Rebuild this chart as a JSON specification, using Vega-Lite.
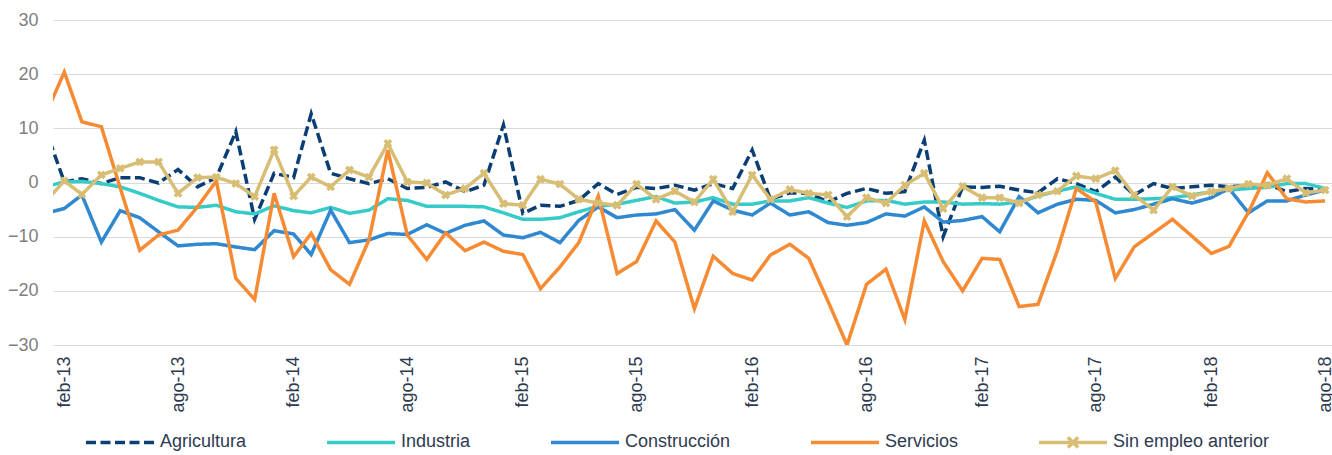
{
  "$schema": "https://vega.github.io/schema/vega-lite/v6.json",
  "width": 1279,
  "height": 325,
  "autosize": {"type": "none"},
  "padding": {"left": 53, "top": 20, "right": 0, "bottom": 110},
  "background": "white",
  "config": {
    "view": {"stroke": null},
    "font": "Liberation Sans",
    "axis": {"labelFont": "Liberation Sans"},
    "legend": {"labelFont": "Liberation Sans"}
  },
  "data": {
    "values": [
      {"mes": "2013-01-01", "Agricultura": 10.2, "Industria": -0.8, "Construcción": -5.7, "Servicios": 12.2, "Sin empleo anterior": -3.7},
      {"mes": "2013-02-01", "Agricultura": 0.1, "Industria": 0.1, "Construcción": -4.8, "Servicios": 20.4, "Sin empleo anterior": 0.3},
      {"mes": "2013-03-01", "Agricultura": 0.7, "Industria": 0.2, "Construcción": -2.3, "Servicios": 11.2, "Sin empleo anterior": -2.2},
      {"mes": "2013-04-01", "Agricultura": -0.2, "Industria": -0.2, "Construcción": -11.0, "Servicios": 10.3, "Sin empleo anterior": 1.4},
      {"mes": "2013-05-01", "Agricultura": 0.9, "Industria": -0.8, "Construcción": -5.2, "Servicios": -1.0, "Sin empleo anterior": 2.6},
      {"mes": "2013-06-01", "Agricultura": 0.9, "Industria": -2.0, "Construcción": -6.5, "Servicios": -12.5, "Sin empleo anterior": 3.8},
      {"mes": "2013-07-01", "Agricultura": -0.1, "Industria": -3.3, "Construcción": -9.1, "Servicios": -9.7, "Sin empleo anterior": 3.8},
      {"mes": "2013-08-01", "Agricultura": 2.4, "Industria": -4.5, "Construcción": -11.7, "Servicios": -8.8, "Sin empleo anterior": -2.0},
      {"mes": "2013-09-01", "Agricultura": -0.8, "Industria": -4.6, "Construcción": -11.4, "Servicios": -4.5, "Sin empleo anterior": 0.9},
      {"mes": "2013-10-01", "Agricultura": 0.9, "Industria": -4.2, "Construcción": -11.3, "Servicios": 0.3, "Sin empleo anterior": 1.0},
      {"mes": "2013-11-01", "Agricultura": 9.4, "Industria": -5.4, "Construcción": -11.9, "Servicios": -17.7, "Sin empleo anterior": -0.2},
      {"mes": "2013-12-01", "Agricultura": -6.8, "Industria": -5.8, "Construcción": -12.4, "Servicios": -21.6, "Sin empleo anterior": -2.6},
      {"mes": "2014-01-01", "Agricultura": 1.7, "Industria": -4.3, "Construcción": -8.9, "Servicios": -2.0, "Sin empleo anterior": 6.0},
      {"mes": "2014-02-01", "Agricultura": 0.9, "Industria": -5.2, "Construcción": -9.5, "Servicios": -13.7, "Sin empleo anterior": -2.5},
      {"mes": "2014-03-01", "Agricultura": 12.7, "Industria": -5.6, "Construcción": -13.3, "Servicios": -9.4, "Sin empleo anterior": 1.0},
      {"mes": "2014-04-01", "Agricultura": 1.7, "Industria": -4.6, "Construcción": -5.1, "Servicios": -16.1, "Sin empleo anterior": -0.8},
      {"mes": "2014-05-01", "Agricultura": 0.7, "Industria": -5.7, "Construcción": -11.1, "Servicios": -18.8, "Sin empleo anterior": 2.3},
      {"mes": "2014-06-01", "Agricultura": -0.2, "Industria": -5.1, "Construcción": -10.6, "Servicios": -10.6, "Sin empleo anterior": 1.0},
      {"mes": "2014-07-01", "Agricultura": 0.7, "Industria": -3.0, "Construcción": -9.4, "Servicios": 6.0, "Sin empleo anterior": 7.2},
      {"mes": "2014-08-01", "Agricultura": -1.1, "Industria": -3.3, "Construcción": -9.6, "Servicios": -9.7, "Sin empleo anterior": 0.1},
      {"mes": "2014-09-01", "Agricultura": -0.9, "Industria": -4.4, "Construcción": -7.8, "Servicios": -14.2, "Sin empleo anterior": -0.1},
      {"mes": "2014-10-01", "Agricultura": 0.1, "Industria": -4.4, "Construcción": -9.4, "Servicios": -9.3, "Sin empleo anterior": -2.3},
      {"mes": "2014-11-01", "Agricultura": -1.7, "Industria": -4.4, "Construcción": -7.9, "Servicios": -12.6, "Sin empleo anterior": -1.1},
      {"mes": "2014-12-01", "Agricultura": -0.5, "Industria": -4.5, "Construcción": -7.1, "Servicios": -11.0, "Sin empleo anterior": 1.7},
      {"mes": "2015-01-01", "Agricultura": 10.6, "Industria": -5.6, "Construcción": -9.7, "Servicios": -12.7, "Sin empleo anterior": -3.9},
      {"mes": "2015-02-01", "Agricultura": -5.7, "Industria": -6.8, "Construcción": -10.2, "Servicios": -13.3, "Sin empleo anterior": -4.2},
      {"mes": "2015-03-01", "Agricultura": -4.2, "Industria": -6.8, "Construcción": -9.2, "Servicios": -19.6, "Sin empleo anterior": 0.6},
      {"mes": "2015-04-01", "Agricultura": -4.4, "Industria": -6.5, "Construcción": -11.1, "Servicios": -15.6, "Sin empleo anterior": -0.3},
      {"mes": "2015-05-01", "Agricultura": -3.3, "Industria": -5.4, "Construcción": -7.0, "Servicios": -11.1, "Sin empleo anterior": -3.1},
      {"mes": "2015-06-01", "Agricultura": -0.2, "Industria": -4.4, "Construcción": -4.5, "Servicios": -2.5, "Sin empleo anterior": -3.8},
      {"mes": "2015-07-01", "Agricultura": -2.2, "Industria": -4.0, "Construcción": -6.5, "Servicios": -16.8, "Sin empleo anterior": -4.2},
      {"mes": "2015-08-01", "Agricultura": -0.9, "Industria": -3.3, "Construcción": -6.0, "Servicios": -14.6, "Sin empleo anterior": -0.3},
      {"mes": "2015-09-01", "Agricultura": -1.1, "Industria": -2.6, "Construcción": -5.8, "Servicios": -7.1, "Sin empleo anterior": -3.1},
      {"mes": "2015-10-01", "Agricultura": -0.5, "Industria": -3.8, "Construcción": -5.0, "Servicios": -11.0, "Sin empleo anterior": -1.6},
      {"mes": "2015-11-01", "Agricultura": -1.4, "Industria": -3.6, "Construcción": -8.8, "Servicios": -23.3, "Sin empleo anterior": -3.6},
      {"mes": "2015-12-01", "Agricultura": -0.2, "Industria": -2.8, "Construcción": -3.4, "Servicios": -13.6, "Sin empleo anterior": 0.6},
      {"mes": "2016-01-01", "Agricultura": -1.1, "Industria": -4.0, "Construcción": -5.1, "Servicios": -16.8, "Sin empleo anterior": -5.4},
      {"mes": "2016-02-01", "Agricultura": 6.0, "Industria": -4.0, "Construcción": -6.0, "Servicios": -18.0, "Sin empleo anterior": 1.4},
      {"mes": "2016-03-01", "Agricultura": -3.1, "Industria": -3.4, "Construcción": -3.8, "Servicios": -13.4, "Sin empleo anterior": -3.1},
      {"mes": "2016-04-01", "Agricultura": -1.9, "Industria": -3.4, "Construcción": -6.0, "Servicios": -11.4, "Sin empleo anterior": -1.3},
      {"mes": "2016-05-01", "Agricultura": -2.0, "Industria": -2.8, "Construcción": -5.4, "Servicios": -14.0, "Sin empleo anterior": -2.0},
      {"mes": "2016-06-01", "Agricultura": -3.6, "Industria": -3.8, "Construcción": -7.4, "Servicios": -22.0, "Sin empleo anterior": -2.3},
      {"mes": "2016-07-01", "Agricultura": -2.0, "Industria": -4.6, "Construcción": -7.9, "Servicios": -30.0, "Sin empleo anterior": -6.3},
      {"mes": "2016-08-01", "Agricultura": -1.1, "Industria": -3.4, "Construcción": -7.4, "Servicios": -18.8, "Sin empleo anterior": -2.8},
      {"mes": "2016-09-01", "Agricultura": -2.0, "Industria": -3.3, "Construcción": -5.8, "Servicios": -16.0, "Sin empleo anterior": -3.8},
      {"mes": "2016-10-01", "Agricultura": -1.7, "Industria": -4.0, "Construcción": -6.2, "Servicios": -25.3, "Sin empleo anterior": -0.5},
      {"mes": "2016-11-01", "Agricultura": 7.8, "Industria": -3.6, "Construcción": -4.5, "Servicios": -7.1, "Sin empleo anterior": 1.7},
      {"mes": "2016-12-01", "Agricultura": -10.0, "Industria": -3.6, "Construcción": -7.3, "Servicios": -14.6, "Sin empleo anterior": -4.8},
      {"mes": "2017-01-01", "Agricultura": -0.8, "Industria": -4.0, "Construcción": -7.0, "Servicios": -20.0, "Sin empleo anterior": -0.7},
      {"mes": "2017-02-01", "Agricultura": -0.9, "Industria": -3.9, "Construcción": -6.3, "Servicios": -14.0, "Sin empleo anterior": -2.8},
      {"mes": "2017-03-01", "Agricultura": -0.7, "Industria": -4.0, "Construcción": -9.1, "Servicios": -14.2, "Sin empleo anterior": -2.8},
      {"mes": "2017-04-01", "Agricultura": -1.4, "Industria": -3.6, "Construcción": -2.6, "Servicios": -22.9, "Sin empleo anterior": -3.8},
      {"mes": "2017-05-01", "Agricultura": -1.9, "Industria": -2.5, "Construcción": -5.6, "Servicios": -22.5, "Sin empleo anterior": -2.3},
      {"mes": "2017-06-01", "Agricultura": 0.7, "Industria": -1.6, "Construcción": -4.0, "Servicios": -12.5, "Sin empleo anterior": -1.6},
      {"mes": "2017-07-01", "Agricultura": -0.2, "Industria": -0.8, "Construcción": -3.1, "Servicios": -1.1, "Sin empleo anterior": 1.2},
      {"mes": "2017-08-01", "Agricultura": -1.7, "Industria": -2.0, "Construcción": -3.3, "Servicios": -3.6, "Sin empleo anterior": 0.7},
      {"mes": "2017-09-01", "Agricultura": 1.0, "Industria": -3.1, "Construcción": -5.6, "Servicios": -17.7, "Sin empleo anterior": 2.2},
      {"mes": "2017-10-01", "Agricultura": -2.3, "Industria": -3.1, "Construcción": -5.0, "Servicios": -11.9, "Sin empleo anterior": -2.3},
      {"mes": "2017-11-01", "Agricultura": -0.2, "Industria": -3.0, "Construcción": -4.0, "Servicios": -9.3, "Sin empleo anterior": -5.1},
      {"mes": "2017-12-01", "Agricultura": -1.1, "Industria": -2.8, "Construcción": -3.0, "Servicios": -6.8, "Sin empleo anterior": -0.8},
      {"mes": "2018-01-01", "Agricultura": -0.8, "Industria": -2.3, "Construcción": -3.8, "Servicios": -9.9, "Sin empleo anterior": -2.5},
      {"mes": "2018-02-01", "Agricultura": -0.5, "Industria": -1.7, "Construcción": -2.8, "Servicios": -13.1, "Sin empleo anterior": -1.7},
      {"mes": "2018-03-01", "Agricultura": -0.8, "Industria": -1.4, "Construcción": -1.1, "Servicios": -11.8, "Sin empleo anterior": -1.1},
      {"mes": "2018-04-01", "Agricultura": -0.5, "Industria": -1.1, "Construcción": -5.6, "Servicios": -5.5, "Sin empleo anterior": -0.3},
      {"mes": "2018-05-01", "Agricultura": -0.3, "Industria": -0.9, "Construcción": -3.4, "Servicios": 1.8, "Sin empleo anterior": -0.5},
      {"mes": "2018-06-01", "Agricultura": -1.7, "Industria": -0.2, "Construcción": -3.4, "Servicios": -3.0, "Sin empleo anterior": 0.7},
      {"mes": "2018-07-01", "Agricultura": -1.1, "Industria": -0.2, "Construcción": -2.3, "Servicios": -3.6, "Sin empleo anterior": -1.9},
      {"mes": "2018-08-01", "Agricultura": -1.4, "Industria": -1.1, "Construcción": -1.4, "Servicios": -3.4, "Sin empleo anterior": -1.4}
    ]
  },
  "transform": [
    {"fold": ["Agricultura", "Industria", "Construcción", "Servicios", "Sin empleo anterior"], "as": ["serie", "valor"]}
  ],
  "encoding": {
    "x": {
      "field": "mes",
      "type": "temporal",
      "scale": {
        "type": "utc",
        "domain": [
          {"year": 2013, "month": 1, "date": 14, "utc": true},
          {"year": 2018, "month": 8, "date": 12, "utc": true}
        ]
      },
      "axis": {
        "title": null,
        "grid": false,
        "domain": false,
        "ticks": false,
        "labelAngle": 270,
        "labelFontSize": 18,
        "labelColor": "#2E3A50",
        "labelPadding": 11,
        "labelFlush": false,
        "labelOverlap": false,
        "labelBound": false,
        "values": [
          {"year": 2013, "month": 2, "date": 1, "utc": true},
          {"year": 2013, "month": 8, "date": 1, "utc": true},
          {"year": 2014, "month": 2, "date": 1, "utc": true},
          {"year": 2014, "month": 8, "date": 1, "utc": true},
          {"year": 2015, "month": 2, "date": 1, "utc": true},
          {"year": 2015, "month": 8, "date": 1, "utc": true},
          {"year": 2016, "month": 2, "date": 1, "utc": true},
          {"year": 2016, "month": 8, "date": 1, "utc": true},
          {"year": 2017, "month": 2, "date": 1, "utc": true},
          {"year": 2017, "month": 8, "date": 1, "utc": true},
          {"year": 2018, "month": 2, "date": 1, "utc": true},
          {"year": 2018, "month": 8, "date": 1, "utc": true}
        ],
        "labelExpr": "['ene','feb','mar','abr','may','jun','jul','ago','sep','oct','nov','dic'][utcmonth(datum.value)] + '-' + utcFormat(datum.value, '%y')"
      }
    },
    "y": {
      "field": "valor",
      "type": "quantitative",
      "scale": {"domain": [-30, 30], "nice": false},
      "axis": {
        "title": null,
        "values": [-30, -20, -10, 0, 10, 20, 30],
        "domain": false,
        "ticks": false,
        "labelFontSize": 18,
        "labelColor": "#7F7F7F",
        "labelPadding": 15,
        "gridColor": "#D9D9D9",
        "gridWidth": 1
      }
    }
  },
  "layer": [
    {
      "mark": {"type": "line", "strokeWidth": 3.5, "clip": true},
      "encoding": {
        "color": {
          "field": "serie",
          "type": "nominal",
          "scale": {
            "domain": ["Agricultura", "Industria", "Construcción", "Servicios", "Sin empleo anterior"],
            "range": ["#0B3F74", "#36CAC8", "#2F88D0", "#F68B34", "#D8BE74"]
          },
          "legend": {
            "title": null,
            "orient": "none",
            "legendX": 31,
            "legendY": 386,
            "direction": "horizontal",
            "symbolType": "stroke",
            "symbolSize": 4624,
            "symbolStrokeWidth": 3.5,
            "labelFontSize": 18,
            "labelColor": "#2E3A50",
            "labelOffset": 4,
            "columnPadding": 73,
            "encode": {
              "symbols": {
                "update": {
                  "shape": {"signal": "datum.value === 'Sin empleo anterior' ? 'M-1,0H1M-0.15,-0.15L0.15,0.15M-0.15,0.15L0.15,-0.15' : 'M-1,0H1M0,-0.15M0,0.15'"}
                }
              }
            }
          }
        },
        "strokeDash": {
          "field": "serie",
          "type": "nominal",
          "scale": {
            "domain": ["Agricultura", "Industria", "Construcción", "Servicios", "Sin empleo anterior"],
            "range": [[10, 4.5], [1, 0], [1, 0], [1, 0], [1, 0]]
          }
        }
      }
    },
    {
      "transform": [{"filter": "datum.serie === 'Sin empleo anterior'"}],
      "mark": {"type": "point", "shape": "cross", "angle": 45, "size": 80, "filled": true, "opacity": 1, "color": "#D8BE74", "clip": true}
    }
  ]
}
